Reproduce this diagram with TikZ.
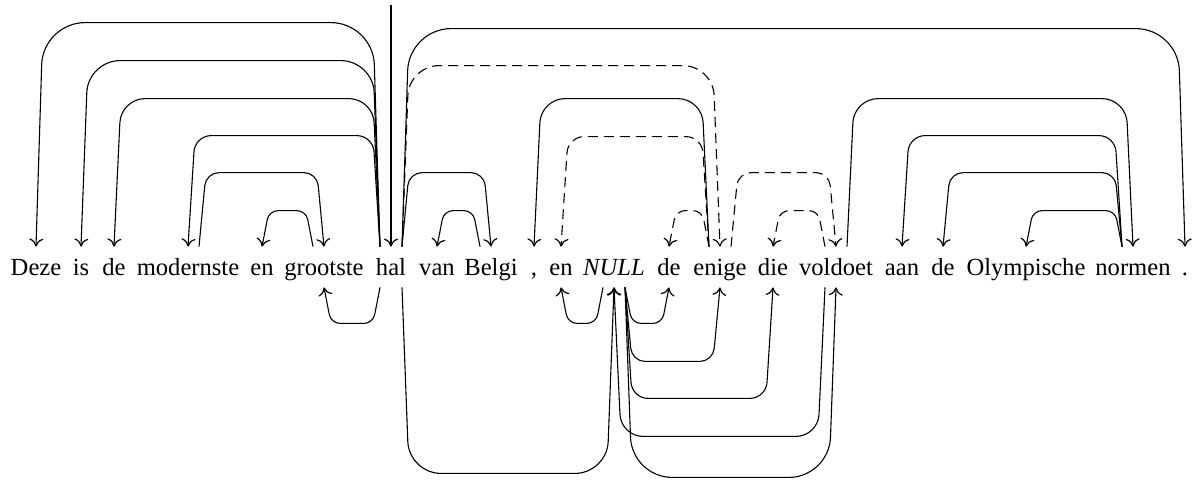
\documentclass[tikz,border=0pt]{standalone}
\usepackage{fontspec}
\setmainfont{Liberation Serif}
\usetikzlibrary{calc,arrows.meta}
\tikzset{
  word/.style={inner sep=0pt, minimum height=20pt, text height=10pt, text depth=2pt,
    font=\fontsize{12.3}{14}\selectfont},
  dep/.style={line width=0.55pt, -{To[length=4pt,width=7pt,line width=0.6pt]}},
  dashdep/.style={dep, dash pattern=on 5pt off 3pt},
}
% edge above the words: style, head, dependent, height (px), corner radius (pt)
\newcommand\depup[5]{%
  \draw[#1, rounded corners=#5pt] let \p1=(#2.north), \p2=(#3.north),
    \n1={ifthenelse(\x2>\x1,1,-1)} in
    (\x1+\n1*5.5pt,\y1) -- (\x1+\n1*9pt,\y1+#4*0.5pt)
    -- (\x2-\n1*3.5pt,\y1+#4*0.5pt) -- (\p2);}
% edge below the words
\newcommand\depdown[5]{%
  \draw[#1, rounded corners=#5pt] let \p1=(#2.south), \p2=(#3.south),
    \n1={ifthenelse(\x2>\x1,1,-1)} in
    (\x1+\n1*5.5pt,\y1) -- (\x1+\n1*9pt,\y1-#4*0.5pt)
    -- (\x2-\n1*3.5pt,\y1-#4*0.5pt) -- (\p2);}
\begin{document}
\begin{tikzpicture}[x=0.5pt,y=-0.5pt]
\useasboundingbox (0,0) rectangle (1192,479);
\node[word] (Deze) at (36,267) {Deze};
\node[word] (is) at (81,267) {is};
\node[word] (de) at (114,267) {de};
\node[word] (modernste) at (188,267) {modernste};
\node[word] (en) at (262,267) {en};
\node[word] (grootste) at (324,267) {grootste};
\node[word] (hal) at (391,267) {hal};
\node[word] (van) at (437,267) {van};
\node[word] (Belgi) at (491,267) {Belgi};
\node[word] (comma) at (534,267) {,};
\node[word] (enb) at (561,267) {en};
\node[word] (NULL) at (614,267) {\itshape NULL};
\node[word] (deb) at (669,267) {de};
\node[word] (enige) at (720,267) {enige};
\node[word] (die) at (773,267) {die};
\node[word] (voldoet) at (836,267) {voldoet};
\node[word] (aan) at (902,267) {aan};
\node[word] (dec) at (943,267) {de};
\node[word] (Olympische) at (1026,267) {Olympische};
\node[word] (normen) at (1133,267) {normen};
\node[word] (period) at (1185,267) {.};

\coordinate (root) at (391,5);
\draw[dep] (root) -- (hal.north);

% above
\depup{dep}{hal}{Deze}{224}{21}
\depup{dep}{hal}{is}{186}{16}
\depup{dep}{hal}{de}{148}{12}
\depup{dep}{hal}{modernste}{111}{8}
\depup{dep}{modernste}{grootste}{74}{6.5}
\depup{dep}{grootste}{en}{36}{4.5}
\depup{dep}{hal}{period}{218}{21}
\depup{dashdep}{hal}{enige}{181}{15}
\depup{dep}{hal}{Belgi}{74}{6.5}
\depup{dep}{Belgi}{van}{36}{4.5}
\depup{dep}{enige}{comma}{148}{12}
\depup{dashdep}{enige}{enb}{110}{8}
\depup{dashdep}{enige}{deb}{36}{4.5}
\depup{dashdep}{enige}{voldoet}{74}{6.5}
\depup{dashdep}{voldoet}{die}{36}{4.5}
\depup{dep}{voldoet}{normen}{148}{12}
\depup{dep}{normen}{aan}{111}{8}
\depup{dep}{normen}{dec}{74}{6.5}
\depup{dep}{normen}{Olympische}{36}{4.5}

% below
\depdown{dep}{hal}{grootste}{36}{4.5}
\depdown{dep}{NULL}{enb}{36}{4.5}
\depdown{dep}{NULL}{deb}{36}{4.5}
\depdown{dep}{NULL}{enige}{74}{6.5}
\depdown{dep}{NULL}{die}{111}{8}
\depdown{dep}{voldoet}{NULL}{149}{11}
\depdown{dep}{hal}{NULL}{186}{16}
\depdown{dep}{NULL}{voldoet}{190}{20}
\end{tikzpicture}
\end{document}
